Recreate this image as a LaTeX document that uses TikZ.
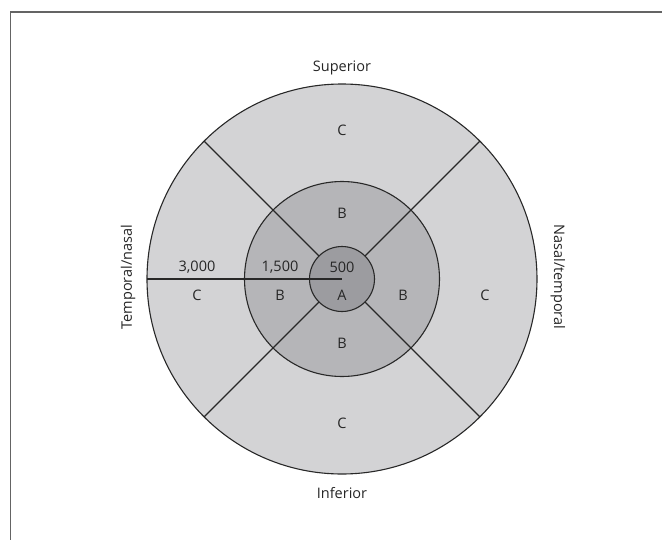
\documentclass[tikz,border=0pt]{standalone}
\usepackage{fontspec}
\setmainfont{Open Sans}
\usetikzlibrary{positioning}
\definecolor{ringC}{RGB}{211,211,213}
\definecolor{ringB}{RGB}{181,181,184}
\definecolor{ringA}{RGB}{156,156,160}
\definecolor{edge}{RGB}{40,40,40}
\definecolor{framegray}{RGB}{100,100,100}
\tikzstyle{ring} = [
    circle,
    inner sep=0pt,
    outer sep=0pt,
    draw=edge,
    line width=1.1pt
]
\tikzstyle{zone} = [
    font=\fontsize{14.5}{16}\selectfont,
    text=black!85
]
\tikzstyle{side} = [
    font=\fontsize{14.5}{16}\selectfont,
    text=black!85
]
\tikzstyle{divider} = [draw=edge, line width=1.1pt]

\begin{document}
\begin{tikzpicture}[x=1pt,y=1pt]
\useasboundingbox (-342,-260) rectangle (320,279);

% Frame
\draw [framegray, line width=1.8pt] (-331.5,-262) -- (-331.5,267) -- (322,267);

% Rings
\coordinate (ctr) at (0,0);
\node (outer) [ring, minimum size=390pt, fill=ringC] at (ctr) {};
\node (middle) [ring, minimum size=195pt, fill=ringB] at (ctr) {};
\node (inner) [ring, minimum size=65pt, fill=ringA] at (ctr) {};

% Lines
\foreach \a in {45,135,225,315}
    \draw [divider] (inner.\a) -- (outer.\a);
\draw [divider] (outer.west) -- (ctr);

% Zone labels
\node (cN) [zone] at (0,149) {C};
\node (bN) [zone] at (0,66) {B};
\node (bS) [zone] at (0,-64) {B};
\node (cS) [zone] at (0,-144) {C};
\node (cW) [zone] at (-145,-16) {C};
\node (bW) [zone] at (-62,-16) {B};
\node (aC) [zone] at (0,-16) {A};
\node (bE) [zone] at (61,-16) {B};
\node (cE) [zone] at (143,-16) {C};

% Radii
\node (r3000) [zone] at (-145,12) {3,000};
\node (r1500) [zone] at (-62,12) {1,500};
\node (r500) [zone] at (0,12) {500};

% Sides
\node (sup) [side] at (0,211) {Superior};
\node (inf) [side] at (0,-214) {Inferior};
\node (temp) [side, rotate=90] at (-214,2) {Temporal/nasal};
\node (nas) [side, rotate=-90] at (216,2) {Nasal/temporal};

\end{tikzpicture}
\end{document}
